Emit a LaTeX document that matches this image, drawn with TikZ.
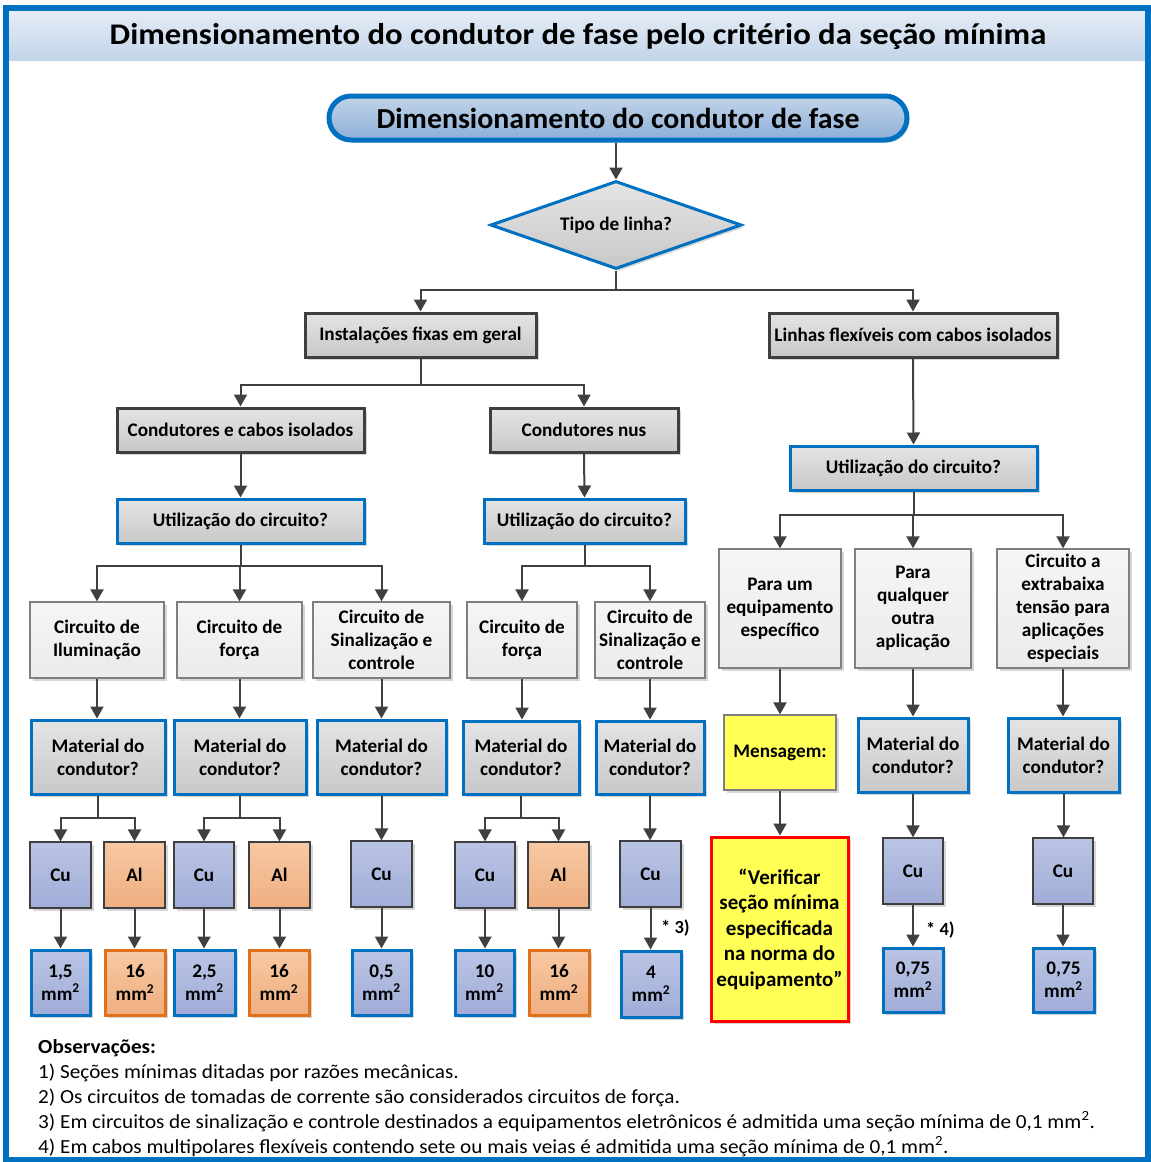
\documentclass[tikz,border=0pt]{standalone}
\usepackage{fontspec}
\setmainfont{Carlito}
\newfontfamily\headfont[FakeStretch=1.09]{Carlito}
\newfontfamily\pillfont[FakeStretch=1.03]{Carlito}
\newfontfamily\notefont[FakeStretch=1.06]{Carlito}
\usetikzlibrary{arrows.meta,shapes.geometric,shadows}

\definecolor{frameblue}{HTML}{0070C0}
\definecolor{bandtop}{HTML}{E4ECF6}
\definecolor{bandbot}{HTML}{C3D5EA}
\definecolor{pilltop}{HTML}{C2D4EA}
\definecolor{pillbot}{HTML}{8DAFD6}
\definecolor{lineg}{HTML}{404040}
\definecolor{darkb}{HTML}{3F3F3F}
\definecolor{midg}{HTML}{7F7F7F}
\definecolor{gtop}{HTML}{E4E4E4}
\definecolor{gbot}{HTML}{C8C8C8}
\definecolor{ltop}{HTML}{F5F5F5}
\definecolor{lbot}{HTML}{EBEBEB}
\definecolor{cutop}{HTML}{BAC4E4}
\definecolor{cubot}{HTML}{A1ADD8}
\definecolor{altop}{HTML}{F7C9A4}
\definecolor{albot}{HTML}{EFAE80}
\definecolor{orangeb}{HTML}{E0701A}
\definecolor{yel}{HTML}{FFFF55}
\definecolor{redb}{HTML}{FF0000}

\newcommand\fsz[2]{\fontsize{#1}{#2}\selectfont}
% box from corner (x1,y1) to corner (x2,y2)
\newcommand\bx[7]{\node[#2, minimum width={#5-#3}, minimum height={#6-#4}] (#1) at ({(#3+#5)/2},{(#4+#6)/2}) {#7};}

\begin{document}
\begin{tikzpicture}[x=1pt,y=-1pt,
  arr/.style={draw=lineg, line width=2pt, -{Triangle[length=12pt,width=13pt]}},
  shadowed/.style={drop shadow={shadow xshift=2.5pt,shadow yshift=-2.5pt,opacity=0.16,fill=black}},
  boxbase/.style={align=center, font=\bfseries\fsz{19.2}{23}, inner sep=2pt, shadowed},
  graybox/.style={boxbase, draw=darkb, line width=3pt, top color=gtop, bottom color=gbot},
  bluebox/.style={boxbase, draw=frameblue, line width=3pt, top color=gtop, bottom color=gbot},
  lightbox/.style={boxbase, draw=midg, line width=1.2pt, top color=ltop, bottom color=lbot},
  cubox/.style={boxbase, draw=darkb, line width=1.2pt, top color=cutop, bottom color=cubot},
  albox/.style={boxbase, draw=darkb, line width=1.2pt, top color=altop, bottom color=albot},
  curesult/.style={boxbase, draw=frameblue, line width=3pt, top color=cutop, bottom color=cubot},
  alresult/.style={boxbase, draw=orangeb, line width=3pt, top color=altop, bottom color=albot},
  msgbox/.style={boxbase, draw=midg, line width=1.2pt, fill=yel},
  verbox/.style={boxbase, draw=redb, line width=3pt, fill=yel, font=\bfseries\fsz{21}{25.5}},
  note/.style={anchor=base west, inner sep=0pt, font=\notefont\fsz{20}{25}},
  starlbl/.style={anchor=west, inner sep=0pt, font=\bfseries\fsz{18.5}{22}}
]
\useasboundingbox (0,0) rectangle (1151,1162);

% outer frame and heading band
\shade[top color=bandtop, bottom color=bandbot] (9,11) rectangle (1145,60);
\draw[frameblue, line width=6pt] (6,8) rectangle (1148,1160);
\node[anchor=base, inner sep=0pt, font=\headfont\bfseries\fsz{30}{34}] (title) at (578,44)
  {Dimensionamento do condutor de fase pelo critério da seção mínima};

% top terminal and decision
\node[draw=frameblue, line width=5pt, rounded corners=22pt, top color=pilltop, bottom color=pillbot,
  minimum width=578, minimum height=44, font=\pillfont\bfseries\fsz{29}{32}, shadowed] (top) at (618,118)
  {Dimensionamento do condutor de fase};
\node[diamond, aspect=2.8, inner sep=0pt, draw=frameblue, line width=3pt, top color=gtop, bottom color=gbot,
  minimum width=251, minimum height=88, font=\bfseries\fsz{19.2}{23}, shadowed] (dia) at (616,225)
  {Tipo de linha?};

% second and third levels
\bx{inst}{graybox}{305}{313}{536}{357}{Instalações fixas em geral}
\bx{flex}{graybox}{769}{313}{1057}{357}{Linhas flexíveis com cabos isolados}
\bx{cci}{graybox}{117}{408}{364}{452}{Condutores e cabos isolados}
\bx{nus}{graybox}{490}{408}{678}{452}{Condutores nus}
\bx{utilL}{bluebox}{117}{499}{364}{543}{Utilização do circuito?}
\bx{utilM}{bluebox}{484}{499}{685}{543}{Utilização do circuito?}
\bx{utilR}{bluebox}{790}{446}{1037}{490}{Utilização do circuito?}

% circuit kinds
\bx{c1}{lightbox}{30}{602}{164}{678}{Circuito de\\Iluminação}
\bx{c2}{lightbox}{177}{602}{302}{678}{Circuito de\\força}
\bx{c3}{lightbox}{313}{602}{450}{678}{Circuito de\\Sinalização e\\controle}
\bx{c4}{lightbox}{467}{602}{577}{678}{Circuito de\\força}
\bx{c5}{lightbox}{595}{602}{705}{678}{Circuito de\\Sinalização e\\controle}
\bx{r1}{lightbox}{719}{549}{841}{668}{Para um\\equipamento\\específico}
\bx{r2}{lightbox}{855}{549}{971}{668}{Para\\qualquer\\outra\\aplicação}
\bx{r3}{lightbox}{997}{549}{1129}{668}{Circuito a\\extrabaixa\\tensão para\\aplicações\\especiais}

% material questions
\bx{m1}{bluebox}{31}{720}{165}{794}{Material do\\condutor?}
\bx{m2}{bluebox}{174}{720}{306}{794}{Material do\\condutor?}
\bx{m3}{bluebox}{317}{720}{446}{794}{Material do\\condutor?}
\bx{m4}{bluebox}{463}{721}{579}{794}{Material do\\condutor?}
\bx{m5}{bluebox}{596}{721}{704}{794}{Material do\\condutor?}
\bx{msg}{msgbox}{724}{715}{836}{790}{Mensagem:}
\bx{m6}{bluebox}{858}{718}{968}{792}{Material do\\condutor?}
\bx{m7}{bluebox}{1008}{718}{1119}{792}{Material do\\condutor?}

% conductor materials
\bx{cu1}{cubox}{30}{842}{91}{908}{Cu}
\bx{al1}{albox}{104}{842}{165}{908}{Al}
\bx{cu2}{cubox}{174}{842}{234}{908}{Cu}
\bx{al2}{albox}{249}{842}{310}{908}{Al}
\bx{cu3}{cubox}{351}{841}{412}{907}{Cu}
\bx{cu4}{cubox}{455}{842}{515}{908}{Cu}
\bx{al4}{albox}{528}{842}{589}{908}{Al}
\bx{cu5}{cubox}{620}{841}{681}{907}{Cu}
\bx{cu6}{cubox}{883}{838}{943}{904}{Cu}
\bx{cu7}{cubox}{1033}{838}{1093}{904}{Cu}

% minimum sections
\bx{s1}{curesult}{31}{950}{90}{1015}{1,5\\mm\textsuperscript{2}}
\bx{s2}{alresult}{105}{950}{165}{1015}{16\\mm\textsuperscript{2}}
\bx{s3}{curesult}{174}{950}{235}{1015}{2,5\\mm\textsuperscript{2}}
\bx{s4}{alresult}{249}{950}{309}{1015}{16\\mm\textsuperscript{2}}
\bx{s5}{curesult}{352}{950}{411}{1015}{0,5\\mm\textsuperscript{2}}
\bx{s6}{curesult}{455}{950}{514}{1015}{10\\mm\textsuperscript{2}}
\bx{s7}{alresult}{529}{950}{589}{1015}{16\\mm\textsuperscript{2}}
\bx{s8}{curesult}{621}{951}{681}{1017}{4\\mm\textsuperscript{2}}
\bx{ver}{verbox}{711}{837}{848}{1021}{“Verificar\\seção mínima\\especificada\\na norma do\\equipamento”}
\bx{s9}{curesult}{883}{948}{943}{1012}{0,75\\mm\textsuperscript{2}}
\bx{s10}{curesult}{1033}{948}{1094}{1012}{0,75\\mm\textsuperscript{2}}

% branching levels
\coordinate (busA) at (0,290);
\coordinate (busB) at (0,385);
\coordinate (busC) at (0,566);
\coordinate (busD) at (0,515);
\coordinate (busE) at (0,818);

% connectors
\draw[arr] (dia.north |- top.south) -- (dia.north);
\draw[arr] (dia.south) -- (dia.south |- busA) -| (inst.north);
\draw[arr] (dia.south) -- (dia.south |- busA) -| (flex.north);
\draw[arr] (inst.south) -- (inst.south |- busB) -| (cci.north);
\draw[arr] (inst.south) -- (inst.south |- busB) -| (nus.north);
\draw[arr] (flex.south) -- (utilR.north);
\draw[arr] (cci.south) -- (utilL.north);
\draw[arr] (nus.south) -- (utilM.north);
\foreach \c in {c1,c2,c3}
  \draw[arr] (utilL.south) -- (utilL.south |- busC) -| (\c.north);
\foreach \c in {c4,c5}
  \draw[arr] (utilM.south) -- (utilM.south |- busC) -| (\c.north);
\foreach \c in {r1,r2,r3}
  \draw[arr] (utilR.south) -- (utilR.south |- busD) -| (\c.north);
\draw[arr] (c1.south) -- (c1.south |- m1.north);
\draw[arr] (c2.south) -- (c2.south |- m2.north);
\draw[arr] (c3.south) -- (c3.south |- m3.north);
\draw[arr] (c4.south) -- (c4.south |- m4.north);
\draw[arr] (c5.south) -- (c5.south |- m5.north);
\draw[arr] (r1.south) -- (r1.south |- msg.north);
\draw[arr] (r2.south) -- (r2.south |- m6.north);
\draw[arr] (r3.south) -- (r3.south |- m7.north);
\draw[arr] (m1.south) -- (m1.south |- busE) -| (cu1.north);
\draw[arr] (m1.south) -- (m1.south |- busE) -| (al1.north);
\draw[arr] (m2.south) -- (m2.south |- busE) -| (cu2.north);
\draw[arr] (m2.south) -- (m2.south |- busE) -| (al2.north);
\draw[arr] (m4.south) -- (m4.south |- busE) -| (cu4.north);
\draw[arr] (m4.south) -- (m4.south |- busE) -| (al4.north);
\draw[arr] (m3.south) -- (m3.south |- cu3.north);
\draw[arr] (m5.south) -- (m5.south |- cu5.north);
\draw[arr] (msg.south) -- (msg.south |- ver.north);
\draw[arr] (m6.south) -- (m6.south |- cu6.north);
\draw[arr] (m7.south) -- (m7.south |- cu7.north);
\draw[arr] (cu1.south) -- (cu1.south |- s1.north);
\draw[arr] (al1.south) -- (al1.south |- s2.north);
\draw[arr] (cu2.south) -- (cu2.south |- s3.north);
\draw[arr] (al2.south) -- (al2.south |- s4.north);
\draw[arr] (cu3.south) -- (cu3.south |- s5.north);
\draw[arr] (cu4.south) -- (cu4.south |- s6.north);
\draw[arr] (al4.south) -- (al4.south |- s7.north);
\draw[arr] (cu5.south) -- (cu5.south |- s8.north);
\draw[arr] (cu6.south) -- (cu6.south |- s9.north);
\draw[arr] (cu7.south) -- (cu7.south |- s10.north);

\node[starlbl] (st3) at (661,928) {* 3)};
\node[starlbl] (st4) at (926,930) {* 4)};

% remarks
\node[note, font=\notefont\bfseries\fsz{20}{25}] (n0) at (38,1053) {Observações:};
\node[note] (n1) at (38,1078) {1) Seções mínimas ditadas por razões mecânicas.};
\node[note] (n2) at (38,1103) {2) Os circuitos de tomadas de corrente são considerados circuitos de força.};
\node[note] (n3) at (38,1128) {3) Em circuitos de sinalização e controle destinados a equipamentos eletrônicos é admitida uma seção mínima de 0,1 mm\textsuperscript{2}.};
\node[note] (n4) at (38,1153) {4) Em cabos multipolares flexíveis contendo sete ou mais veias é admitida uma seção mínima de 0,1 mm\textsuperscript{2}.};
\end{tikzpicture}
\end{document}
